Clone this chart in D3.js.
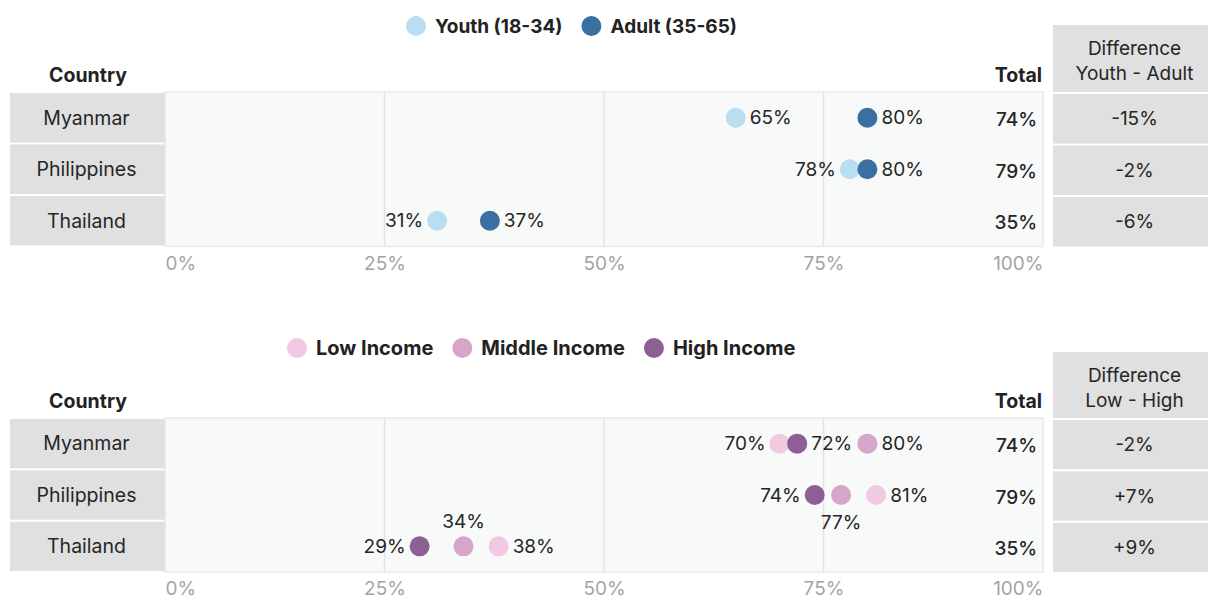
<!DOCTYPE html>
<html>
<head>
<meta charset="utf-8">
<script src="https://cdn.jsdelivr.net/npm/d3@7"></script>
<style>
  html, body { margin: 0; padding: 0; background: #ffffff; }
  svg { display: block; font-family: "Inter", "Open Sans", sans-serif; }
</style>
</head>
<body>
<svg id="chart" width="1208" height="599"></svg>
<script>
// ---- data ----
const countries = ["Myanmar", "Philippines", "Thailand"];
const totals = [74, 79, 35];

const youth = [65, 78, 31];
const adult = [80, 80, 37];

const lowIncome = [70, 81, 38];
const middleIncome = [80, 77, 34];
const highIncome = [72, 74, 29];

const tickValues = [0, 25, 50, 75, 100];

// where each value label sits relative to its dot
const youthSide = ["right", "left", "left"];
const adultSide = ["right", "right", "right"];
const lowSide = ["left", "right", "right"];
const middleSide = ["right", "below", "above"];
const highSide = ["right", "left", "left"];

// ---- layout ----
const svg = d3.select("#chart");
const x = d3.scaleLinear().domain([0, 100]).range([165, 1043]);
const labelCol = { x0: 10, x1: 165 };
const diffCol = { x0: 1053, x1: 1208 };
const R = 10;

const fmtSigned = v => (v > 0 ? "+" : "") + v + "%";

const panels = [
  {
    legendY: 26, legendX: 416, legendSize: 19,
    headerY: 82,
    top: 92, bottom: 246.5,
    tickY: 263,
    diffHeader: ["Difference", "Youth - Adult"],
    diffTop: 25,
    series: [
      { name: "Youth (18-34)", values: youth, color: "#b9ddf1", side: youthSide },
      { name: "Adult (35-65)", values: adult, color: "#3b6ea1", side: adultSide }
    ],
    diff: youth.map((v, i) => v - adult[i]),
    diffFmt: v => v + "%"
  },
  {
    legendY: 348, legendX: 297, legendSize: 20,
    headerY: 408,
    top: 418, bottom: 572,
    tickY: 588,
    diffHeader: ["Difference", "Low - High"],
    diffTop: 352,
    series: [
      { name: "Low Income", values: lowIncome, color: "#f1c9e1", side: lowSide },
      { name: "Middle Income", values: middleIncome, color: "#d5a6c9", side: middleSide },
      { name: "High Income", values: highIncome, color: "#8e5f94", side: highSide }
    ],
    diff: lowIncome.map((v, i) => v - highIncome[i]),
    diffFmt: fmtSigned
  }
];

panels.forEach(p => {
  const g = svg.append("g");
  const y = d3.scaleBand().domain(countries).range([p.top, p.bottom]);
  const mid = c => y(c) + y.bandwidth() / 2;

  // legend
  const lg = g.append("g");
  let cx = p.legendX;
  p.series.forEach(s => {
    lg.append("circle").attr("cx", cx).attr("cy", p.legendY).attr("r", R).attr("fill", s.color);
    const t = lg.append("text")
      .attr("x", cx + 19).attr("y", p.legendY)
      .attr("dy", "0.35em")
      .attr("font-size", p.legendSize).attr("font-weight", 700).attr("fill", "#222")
      .text(s.name);
    cx += 19 + t.node().getComputedTextLength() + 29;
  });

  // headers
  g.append("text").attr("x", 88).attr("y", p.headerY)
    .attr("text-anchor", "middle").attr("font-size", 19.5).attr("font-weight", 700).attr("fill", "#222")
    .text("Country");
  g.append("text").attr("x", 1042).attr("y", p.headerY)
    .attr("text-anchor", "end").attr("font-size", 19.5).attr("font-weight", 700).attr("fill", "#222")
    .text("Total");

  // plot background
  g.append("rect")
    .attr("x", x(0)).attr("y", p.top)
    .attr("width", x(100) - x(0)).attr("height", p.bottom - p.top)
    .attr("fill", "#f8f9f9").attr("stroke", "#e9e9e9").attr("stroke-width", 1.5);

  // gridlines
  g.selectAll(".grid").data(tickValues.slice(1, -1)).join("line")
    .attr("x1", d => x(d)).attr("x2", d => x(d))
    .attr("y1", p.top).attr("y2", p.bottom)
    .attr("stroke", "#e3e3e3").attr("stroke-width", 1.5);

  // axis tick labels
  const axis = d3.axisBottom(x).tickValues(tickValues).tickFormat(d => d + "%").tickSize(0);
  const ax = g.append("g").attr("transform", `translate(0,${p.tickY})`).call(axis);
  ax.select(".domain").remove();
  ax.selectAll("text")
    .attr("y", 0).attr("dy", "0.35em")
    .attr("font-family", "Inter, 'Open Sans', sans-serif")
    .attr("font-size", 19).attr("fill", "#a4a4a4")
    .attr("text-anchor", (d, i) => i === 0 ? "start" : (i === tickValues.length - 1 ? "end" : "middle"));

  // country label cells
  g.selectAll(".ccell").data(countries).join("rect")
    .attr("x", labelCol.x0).attr("y", d => y(d) + 1)
    .attr("width", labelCol.x1 - labelCol.x0).attr("height", y.bandwidth() - 2)
    .attr("fill", "#dfe0df");
  g.selectAll(".clabel").data(countries).join("text")
    .attr("x", (labelCol.x0 + labelCol.x1) / 2 - 1).attr("y", d => mid(d))
    .attr("dy", "0.35em").attr("text-anchor", "middle")
    .attr("font-size", 19.5).attr("fill", "#262626")
    .text(d => d);

  // totals
  g.selectAll(".total").data(countries).join("text")
    .attr("x", 1037).attr("y", d => mid(d) + 2)
    .attr("dy", "0.35em").attr("text-anchor", "end")
    .attr("font-size", 19).attr("font-weight", 500).attr("fill", "#262626")
    .text((d, i) => totals[i] + "%");

  // difference column
  g.append("rect")
    .attr("x", diffCol.x0).attr("y", p.diffTop)
    .attr("width", diffCol.x1 - diffCol.x0).attr("height", p.top - p.diffTop)
    .attr("fill", "#dfe0df");
  const dcx = (diffCol.x0 + diffCol.x1) / 2 + 4;
  p.diffHeader.forEach((line, i) => {
    g.append("text").attr("x", dcx).attr("y", p.diffTop + 30 + i * 25)
      .attr("text-anchor", "middle").attr("font-size", 19).attr("fill", "#262626")
      .text(line);
  });
  g.selectAll(".dcell").data(countries).join("rect")
    .attr("x", diffCol.x0).attr("y", d => y(d) + 2)
    .attr("width", diffCol.x1 - diffCol.x0).attr("height", y.bandwidth() - 2)
    .attr("fill", "#dfe0df");
  g.selectAll(".dval").data(countries).join("text")
    .attr("x", dcx).attr("y", d => mid(d) + 1)
    .attr("dy", "0.35em").attr("text-anchor", "middle")
    .attr("font-size", 19).attr("fill", "#262626")
    .text((d, i) => p.diffFmt(p.diff[i]));

  // dots and value labels
  p.series.forEach(s => {
    const rows = countries.map((c, i) => ({ c, v: s.values[i], side: s.side[i] }));
    g.append("g").selectAll("circle").data(rows).join("circle")
      .attr("cx", d => x(d.v)).attr("cy", d => mid(d.c))
      .attr("r", R).attr("fill", s.color);
    g.append("g").selectAll("text").data(rows).join("text")
      .attr("x", d => d.side === "right" ? x(d.v) + 14 : d.side === "left" ? x(d.v) - 14 : x(d.v))
      .attr("y", d => mid(d.c) + (d.side === "below" ? 27 : d.side === "above" ? -25 : 0))
      .attr("dy", "0.35em")
      .attr("text-anchor", d => d.side === "right" ? "start" : d.side === "left" ? "end" : "middle")
      .attr("font-size", 19).attr("fill", "#262626")
      .text(d => d.v + "%");
  });
});
</script>
</body>
</html>
